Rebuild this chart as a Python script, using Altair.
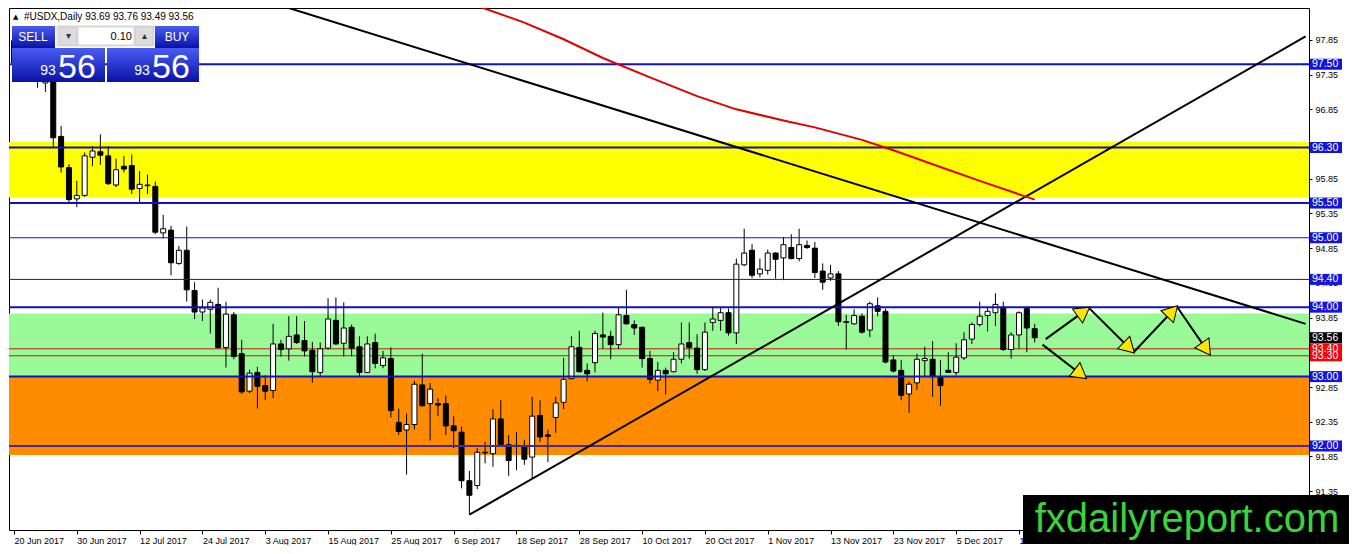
import math
import altair as alt
import pandas as pd

# daily USDX candles from 20 Jun 2017 (index 0) to 19 Dec 2017
opens = [97.52, 97.84, 97.60, 97.57, 97.23, 97.40, 96.46, 96.01, 95.56, 95.61,
         96.16, 96.24, 96.18, 95.76, 96.03, 96.04, 95.71, 95.76, 95.74, 95.07,
         95.11, 94.63, 94.82, 94.24, 93.93, 93.97, 94.04, 93.42, 93.89, 93.33,
         92.79, 93.06, 92.87, 92.80, 93.47, 93.40, 93.60, 93.52, 93.38, 93.06,
         93.41, 93.81, 93.48, 93.71, 93.43, 93.06, 93.49, 93.16, 93.26, 92.34,
         92.23, 92.31, 92.88, 92.61, 92.61, 92.61, 92.29, 92.20, 91.50, 91.43,
         91.91, 91.89, 92.39, 92.02, 92.01, 92.00, 91.84, 92.44, 92.16, 92.41,
         92.63, 92.97, 93.42, 93.09, 93.20, 93.60, 93.58, 93.46, 93.88, 93.75,
         93.71, 93.26, 92.95, 93.09, 93.07, 93.25, 93.49, 93.41, 93.10, 93.78,
         93.81, 93.92, 93.63, 94.61, 94.82, 94.48, 94.53, 94.78, 94.71, 94.86,
         94.70, 94.89, 94.85, 94.52, 94.42, 94.48, 93.79, 93.76, 93.87, 93.67,
         94.02, 93.94, 93.24, 93.09, 92.75, 92.91, 93.23, 93.25, 92.99, 93.09,
         93.06, 93.27, 93.54, 93.75, 93.88, 93.92, 94.00, 93.39, 93.60, 93.98,
         93.69]
highs = [97.87, 97.88, 97.67, 97.62, 97.55, 97.48, 96.61, 96.06, 95.82, 96.23,
         96.32, 96.49, 96.32, 96.14, 96.18, 96.20, 95.96, 95.91, 95.81, 95.33,
         95.17, 94.88, 95.16, 94.36, 94.11, 94.11, 94.28, 94.08, 93.93, 93.53,
         93.10, 93.14, 93.02, 93.76, 93.53, 93.87, 93.87, 93.80, 93.50, 93.49,
         94.13, 94.14, 94.07, 93.75, 93.58, 93.58, 93.62, 93.37, 93.42, 92.54,
         92.47, 92.94, 93.33, 92.91, 92.69, 92.73, 92.43, 92.28, 91.64, 91.97,
         92.06, 92.53, 92.66, 92.16, 92.20, 92.09, 92.71, 92.66, 92.24, 92.71,
         93.27, 93.58, 93.66, 93.19, 93.66, 93.92, 93.66, 93.99, 94.25, 93.81,
         93.72, 93.37, 93.21, 93.13, 93.35, 93.78, 93.78, 93.61, 93.78, 94.01,
         93.99, 93.98, 94.70, 95.13, 94.91, 94.70, 94.83, 94.79, 95.01, 95.05,
         95.13, 94.96, 94.94, 94.63, 94.61, 94.52, 93.89, 93.97, 93.91, 94.08,
         94.14, 93.98, 93.31, 93.24, 92.93, 93.33, 93.43, 93.51, 93.24, 93.35,
         93.48, 93.64, 93.78, 94.08, 93.99, 94.20, 94.08, 93.64, 93.94, 94.01,
         93.76]
lows = [97.45, 97.47, 97.38, 97.16, 97.10, 96.31, 95.94, 95.50, 95.44, 95.59,
        96.03, 96.05, 95.76, 95.73, 95.94, 95.63, 95.50, 95.63, 95.05, 94.99,
        94.46, 94.61, 94.08, 93.83, 93.80, 93.62, 93.40, 93.13, 93.25, 92.75,
        92.76, 92.54, 92.66, 92.69, 93.29, 93.23, 93.47, 93.29, 92.91, 93.01,
        93.39, 93.46, 93.29, 93.29, 93.01, 93.05, 93.12, 93.12, 92.41, 92.16,
        91.59, 92.24, 92.57, 92.08, 92.43, 92.16, 91.97, 91.39, 91.01, 91.38,
        91.75, 91.70, 92.01, 91.57, 91.65, 91.73, 91.53, 92.06, 91.77, 92.19,
        92.53, 92.96, 93.06, 92.93, 93.06, 93.40, 93.25, 93.40, 93.75, 93.60,
        93.13, 92.90, 92.79, 92.74, 93.06, 93.19, 93.26, 93.04, 93.08, 93.66,
        93.66, 93.59, 93.47, 94.59, 94.42, 94.43, 94.47, 94.41, 94.39, 94.69,
        94.66, 94.84, 94.42, 94.25, 94.38, 93.73, 93.39, 93.75, 93.62, 93.57,
        93.87, 93.19, 93.06, 92.66, 92.48, 92.81, 93.00, 92.71, 92.58, 93.06,
        93.02, 93.24, 93.47, 93.72, 93.65, 93.73, 93.37, 93.26, 93.40, 93.35,
        93.49]
closes = [97.84, 97.60, 97.57, 97.27, 97.40, 96.44, 96.02, 95.55, 95.61, 96.18,
          96.25, 96.19, 95.78, 95.98, 95.99, 95.70, 95.77, 95.75, 95.08, 95.13,
          94.64, 94.82, 94.25, 93.93, 93.99, 94.07, 93.42, 93.90, 93.29, 92.78,
          93.05, 92.86, 92.79, 93.47, 93.39, 93.58, 93.49, 93.37, 93.07, 93.40,
          93.83, 93.47, 93.70, 93.41, 93.06, 93.47, 93.19, 93.27, 92.51, 92.21,
          92.31, 92.89, 92.58, 92.82, 92.59, 92.29, 92.22, 91.50, 91.29, 91.91,
          91.90, 92.39, 92.02, 91.79, 92.00, 91.81, 92.43, 92.13, 92.14, 92.62,
          92.96, 93.43, 93.07, 93.04, 93.62, 93.57, 93.46, 93.89, 93.76, 93.70,
          93.26, 92.96, 93.09, 93.04, 93.25, 93.47, 93.42, 93.10, 93.64, 93.83,
          93.92, 93.63, 94.62, 94.78, 94.46, 94.55, 94.78, 94.69, 94.90, 94.70,
          94.90, 94.86, 94.50, 94.36, 94.48, 93.79, 93.78, 93.88, 93.64, 94.05,
          93.94, 93.21, 93.08, 92.73, 92.89, 93.25, 93.26, 93.00, 92.87, 93.06,
          93.28, 93.53, 93.75, 93.87, 93.94, 94.04, 93.39, 93.60, 93.92, 93.70,
          93.56]

# red moving average (bar index, price)
ma_i = [59, 65, 70, 75, 81, 87, 92, 98, 102, 108, 112, 118, 123, 130]
ma_p = [98.34, 98.10, 97.86, 97.59, 97.31, 97.04, 96.85, 96.69, 96.59, 96.41,
        96.26, 96.02, 95.82, 95.55]

# black trend lines
down_i = [35, 164.5]
down_p = [98.31, 93.76]
up_i = [58, 164.5]
up_p = [91.01, 97.90]

# projected path arrows
arrow_i0 = [131.4, 136.9, 142.6, 148.1, 131.0]
arrow_p0 = [93.54, 93.99, 93.35, 94.01, 93.46]
arrow_i1 = [136.9, 142.6, 148.1, 152.3, 136.5]
arrow_p1 = [93.99, 93.35, 94.01, 93.32, 92.98]

# horizontal levels
levels = [97.50, 96.30, 95.50, 95.00, 94.40, 94.00, 93.00, 92.00]
level_w = [2, 2, 2, 1, 1, 2, 2, 2]
level_c = ['#1010c8'] * 7 + ['#44289a']
thin_levels = [93.56, 93.40, 93.30]
thin_c = ['#c8c8c8', '#d01010', '#d01010']

# shaded zones
band_lo = [95.58, 93.00, 91.87]
band_hi = [96.38, 93.91, 93.00]
band_c = ['#ffff00', '#98fb98', '#ff8c00']

price_ticks = [91.35, 91.85, 92.35, 92.85, 93.35, 93.85, 94.35, 94.85,
               95.35, 95.85, 96.35, 96.85, 97.35, 97.85]

box_p = [97.50, 96.30, 95.50, 95.00, 94.40, 94.00, 93.56, 93.40, 93.30, 93.00, 92.00]
box_c = ['#1414e0'] * 6 + ['#000000', '#ff0000', '#ff0000', '#1414e0', '#1414e0']

W, H = 1300, 522
X_DOM = [0, 164.3]
Y_DOM = [90.79, 98.31]
px_i = W / (X_DOM[1] - X_DOM[0])
px_p = H / (Y_DOM[1] - Y_DOM[0])

dates = pd.bdate_range('2017-06-20', periods=len(opens))
date_labels = [f"{d.day} {d:%b %Y}" for d in dates[::8]]
label_js = "[" + ",".join(f"'{s}'" for s in date_labels) + "][round(datum.value/8)]"

FONT = 'Liberation Sans'
xs = alt.Scale(domain=X_DOM, nice=False, zero=False)
ys = alt.Scale(domain=Y_DOM, nice=False, zero=False)
x_axis = alt.Axis(values=list(range(0, 8 * len(date_labels), 8)), labelExpr=label_js,
                  title=None, orient='bottom', domain=False, grid=False, tickSize=4,
                  tickColor='black', labelAlign='left', labelFont=FONT, labelFontSize=9,
                  labelColor='black', labelPadding=2, labelOverlap=False, labelFlush=False)
y_axis = alt.Axis(values=price_ticks, format='.2f', orient='right', title=None,
                  domain=False, grid=False, tickSize=3, tickColor='black', labelFont=FONT,
                  labelFontSize=9, labelColor='black', labelPadding=3,
                  labelOverlap=False, labelFlush=False)


def X(f):
    return alt.X(f, scale=xs, axis=x_axis)


def Y(f):
    return alt.Y(f, scale=ys, axis=y_axis)


candles = pd.DataFrame({'i': range(len(opens)), 'o': opens, 'h': highs, 'l': lows, 'c': closes})
bands = pd.DataFrame({'lo': band_lo, 'hi': band_hi, 'c': band_c})
lv = pd.DataFrame({'p': levels, 'w': level_w, 'c': level_c})
thin = pd.DataFrame({'p': thin_levels, 'c': thin_c})
trend = pd.DataFrame({'i': down_i + up_i, 'p': down_p + up_p, 'g': ['a', 'a', 'b', 'b']})
ma = pd.DataFrame({'i': ma_i, 'p': ma_p})
arrows = pd.DataFrame({'i': arrow_i0, 'p': arrow_p0, 'i2': arrow_i1, 'p2': arrow_p1})

# arrow heads: tip at the segment end, rotated along the segment on screen
heads = []
for a, b, c, d in zip(arrow_i0, arrow_p0, arrow_i1, arrow_p1):
    dx = (c - a) * px_i
    dy = -(d - b) * px_p
    L = math.hypot(dx, dy)
    k = 9
    heads.append({'i': c - k * dx / L / px_i, 'p': d + k * dy / L / px_p,
                  'ang': math.degrees(math.atan2(dx, -dy)) % 360})
heads = pd.DataFrame(heads)

half = 5.5 / px_p
boxes = pd.DataFrame({'p': box_p, 'lo': [v - half for v in box_p], 'hi': [v + half for v in box_p],
                      'c': box_c, 't': [f"{v:.2f}" for v in box_p]})

band_layer = alt.Chart(bands).mark_rect().encode(
    x=alt.value(0), x2=alt.value(W), y=Y('lo:Q'), y2='hi:Q', fill=alt.Color('c:N', scale=None))
thin_layer = alt.Chart(thin).mark_rule(strokeWidth=1).encode(
    y=Y('p:Q'), color=alt.Color('c:N', scale=None))
wicks = alt.Chart(candles).mark_rule(color='black', strokeWidth=1).encode(
    x=X('i:Q'), y=Y('l:Q'), y2='h:Q')
bodies = alt.Chart(candles).mark_bar(size=5, stroke='black', strokeWidth=1).encode(
    x=X('i:Q'), y=Y('o:Q'), y2='c:Q',
    fill=alt.condition('datum.c >= datum.o', alt.value('white'), alt.value('black')))
level_layer = alt.Chart(lv).mark_rule().encode(
    y=Y('p:Q'), color=alt.Color('c:N', scale=None), strokeWidth=alt.StrokeWidth('w:Q', scale=None))
trend_layer = alt.Chart(trend).mark_line(clip=True, color='black', strokeWidth=2).encode(
    x=X('i:Q'), y=Y('p:Q'), detail='g:N')
ma_layer = alt.Chart(ma).mark_line(clip=True, color='#e00000', strokeWidth=2).encode(
    x=X('i:Q'), y=Y('p:Q'))
arrow_layer = alt.Chart(arrows).mark_rule(color='black', strokeWidth=2).encode(
    x=X('i:Q'), y=Y('p:Q'), x2='i2:Q', y2='p2:Q')
head_layer = alt.Chart(heads).mark_point(shape='triangle', filled=True, color='#ffe400',
                                         stroke='black', strokeWidth=1, size=300, opacity=1).encode(
    x=X('i:Q'), y=Y('p:Q'), angle=alt.Angle('ang:Q', scale=None))

one = pd.DataFrame({'k': [0]})
header = alt.Chart(one).mark_text(align='left', baseline='alphabetic', font=FONT, fontSize=10,
                                  color='black').encode(
    x=alt.value(15), y=alt.value(12), text=alt.value('#USDX,Daily  93.69 93.76 93.49 93.56'))
header_arrow = alt.Chart(one).mark_text(align='left', baseline='alphabetic', font='DejaVu Sans',
                                        fontSize=7, color='black').encode(
    x=alt.value(4), y=alt.value(11), text=alt.value('▲'))

# trading panel in the top left corner
blue_grad = alt.Gradient(gradient='linear', x1=0, x2=0, y1=0, y2=1,
                         stops=[alt.GradientStop(color='#4a5cf2', offset=0),
                                alt.GradientStop(color='#0a12a6', offset=1)])
panel_blue = pd.DataFrame({'x0': [3, 146, 3, 98], 'x1': [46, 190, 96, 190],
                           'y0': [18, 18, 40, 40], 'y1': [40, 40, 74, 74]})
panel_grey = pd.DataFrame({'x0': [48, 50, 69, 126], 'x1': [145, 68, 125, 144],
                           'y0': [18, 19, 19, 19], 'y1': [38, 37, 37, 37],
                           'c': ['#f0f0f0', '#dcdcdc', '#ffffff', '#dcdcdc']})
pb = alt.Chart(panel_blue).mark_rect(fill=blue_grad).encode(
    x=alt.X('x0:Q', scale=None), x2='x1:Q', y=alt.Y('y0:Q', scale=None), y2='y1:Q')
pg = alt.Chart(panel_grey).mark_rect(stroke='#b4b4b4', strokeWidth=0.5).encode(
    x=alt.X('x0:Q', scale=None), x2='x1:Q', y=alt.Y('y0:Q', scale=None), y2='y1:Q',
    fill=alt.Color('c:N', scale=None))
panel_txt = pd.DataFrame({'x': [24, 168, 39, 68, 133, 162, 59, 135],
                          'y': [33, 33, 67, 70, 67, 70, 31, 31],
                          't': ['SELL', 'BUY', '93', '56', '93', '56', '▾', '▴'],
                          's': [12, 12, 14, 34, 14, 34, 10, 10],
                          'c': ['white'] * 6 + ['#333333', '#333333']})
pt = alt.Chart(panel_txt).mark_text(align='center', baseline='alphabetic', font=FONT).encode(
    x=alt.X('x:Q', scale=None), y=alt.Y('y:Q', scale=None), text='t:N',
    size=alt.Size('s:Q', scale=None), color=alt.Color('c:N', scale=None))
lot = alt.Chart(one).mark_text(align='right', baseline='alphabetic', font=FONT, fontSize=11,
                               color='black').encode(
    x=alt.value(123), y=alt.value(32), text=alt.value('0.10'))

box_layer = alt.Chart(boxes).mark_rect().encode(
    x=alt.value(W + 1), x2=alt.value(W + 33), y=Y('lo:Q'), y2='hi:Q',
    fill=alt.Color('c:N', scale=None))
box_text = alt.Chart(boxes).mark_text(align='left', baseline='middle', font=FONT, fontSize=10.5,
                                      color='white').encode(
    x=alt.value(W + 3), y=Y('p:Q'), text='t:N')

wm_box = alt.Chart(one).mark_rect(color='black').encode(
    x=alt.value(1014), x2=alt.value(1340), y=alt.value(487), y2=alt.value(536))
wm_text = alt.Chart(one).mark_text(align='center', baseline='alphabetic', font=FONT, fontSize=40,
                                   color='#3ad43a').encode(
    x=alt.value(1178), y=alt.value(524), text=alt.value('fxdailyreport.com'))

chart = alt.layer(
    band_layer, thin_layer, wicks, bodies, level_layer, trend_layer, ma_layer,
    arrow_layer, head_layer, header_arrow, header, pb, pg, pt, lot,
    box_layer, box_text, wm_box, wm_text
).properties(width=W, height=H, padding=0, background='white').configure_view(
    stroke='black', strokeWidth=1)

chart.save("out.html", embed_options={"renderer": "svg", "actions": False})
